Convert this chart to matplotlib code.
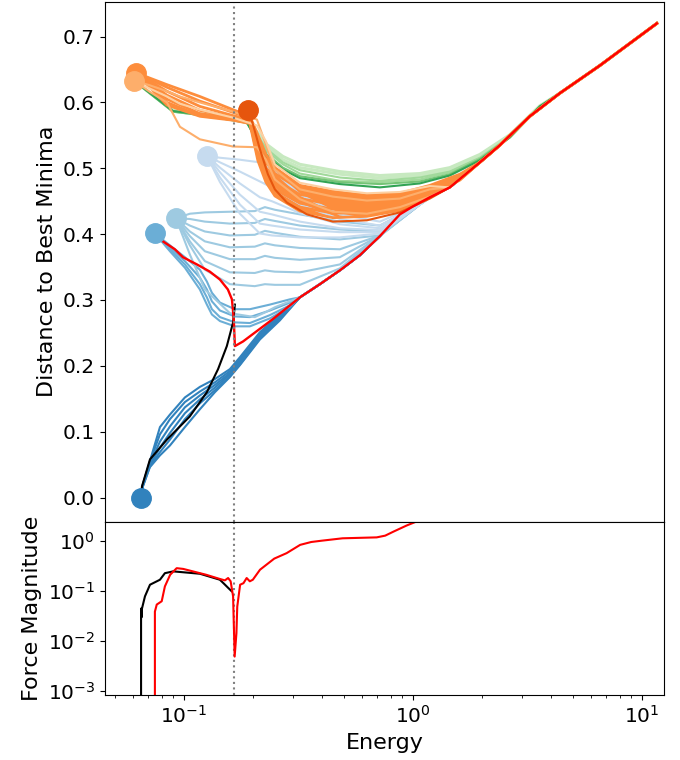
import matplotlib
matplotlib.use("Agg")
import matplotlib.pyplot as plt
from matplotlib.ticker import NullLocator

# ---------------- data ----------------
# shared high-energy trunk where all trajectories merge
trunk_E = [0.3211, 0.3925, 0.4799, 0.5868, 0.7176, 0.8773, 1.0, 1.186, 1.450, 1.961, 2.398, 3.243, 4.385, 6.555, 11.63]
trunk_D = [0.304, 0.324, 0.345, 0.368, 0.397, 0.430, 0.442, 0.456, 0.471, 0.509, 0.535, 0.579, 0.614, 0.656, 0.720]

# dark blue family (start at the best minimum)
db_E = [0.0649, 0.0662, 0.0710, 0.0786, 0.0869, 0.1010, 0.1174, 0.1366, 0.1588, 0.1756, 0.2147, 0.2625]
db_D = [
    [0.0, 0.020, 0.055, 0.107, 0.126, 0.152, 0.168, 0.180, 0.195, 0.213, 0.251, 0.278],
    [0.0, 0.020, 0.054, 0.096, 0.119, 0.145, 0.161, 0.175, 0.192, 0.210, 0.248, 0.277],
    [0.0, 0.019, 0.051, 0.085, 0.108, 0.137, 0.155, 0.171, 0.189, 0.207, 0.245, 0.274],
    [0.0, 0.019, 0.049, 0.076, 0.098, 0.128, 0.149, 0.167, 0.187, 0.204, 0.244, 0.272],
    [0.0, 0.017, 0.047, 0.069, 0.088, 0.119, 0.143, 0.163, 0.184, 0.202, 0.242, 0.271],
    [0.0, 0.017, 0.046, 0.064, 0.079, 0.107, 0.134, 0.160, 0.183, 0.201, 0.240, 0.269],
]

# medium blue family
mb_E = [0.0747, 0.0869, 0.1010, 0.1174, 0.1260, 0.1325, 0.1437, 0.1670, 0.1942, 0.2374, 0.2904]
mb_D = [
    [0.401, 0.383, 0.365, 0.346, 0.328, 0.311, 0.296, 0.286, 0.286, 0.293, 0.301],
    [0.401, 0.380, 0.359, 0.334, 0.316, 0.298, 0.284, 0.275, 0.274, 0.284, 0.296],
    [0.401, 0.377, 0.354, 0.324, 0.304, 0.286, 0.274, 0.266, 0.265, 0.277, 0.292],
    [0.401, 0.374, 0.349, 0.316, 0.293, 0.278, 0.268, 0.260, 0.260, 0.272, 0.290],
]

# light blue family
lb_E = [0.0923, 0.1062, 0.1235, 0.1588, 0.2040, 0.2258, 0.2497, 0.3211, 0.4799, 0.7176, 1.073]
lb_D = [
    [0.424, 0.431, 0.433, 0.434, 0.435, 0.441, 0.437, 0.430, 0.419, 0.413, 0.445],
    [0.424, 0.423, 0.419, 0.416, 0.417, 0.423, 0.420, 0.413, 0.407, 0.404, 0.445],
    [0.424, 0.413, 0.404, 0.398, 0.399, 0.405, 0.402, 0.396, 0.392, 0.398, 0.445],
    [0.424, 0.404, 0.389, 0.380, 0.381, 0.386, 0.383, 0.379, 0.377, 0.398, 0.445],
    [0.424, 0.397, 0.374, 0.362, 0.362, 0.367, 0.364, 0.361, 0.365, 0.398, 0.445],
    [0.424, 0.389, 0.359, 0.342, 0.341, 0.345, 0.343, 0.342, 0.354, 0.398, 0.445],
    [0.424, 0.383, 0.346, 0.324, 0.321, 0.324, 0.323, 0.323, 0.348, 0.398, 0.445],
    [0.424, 0.369, 0.316, 0.280, 0.274, 0.281, 0.289, 0.304, 0.345, 0.397, 0.445],
]

# very light blue family
vlb_E = [0.1260, 0.1437, 0.1756, 0.2147, 0.2422, 0.3211, 0.4799, 0.7176, 1.073]
vlb_D = [
    [0.519, 0.516, 0.513, 0.509, 0.498, 0.460, 0.430, 0.419, 0.445],
    [0.519, 0.509, 0.495, 0.480, 0.471, 0.445, 0.423, 0.413, 0.445],
    [0.519, 0.501, 0.477, 0.456, 0.450, 0.432, 0.415, 0.409, 0.445],
    [0.519, 0.494, 0.460, 0.434, 0.430, 0.419, 0.409, 0.406, 0.445],
    [0.519, 0.486, 0.445, 0.416, 0.413, 0.407, 0.403, 0.403, 0.445],
    [0.519, 0.479, 0.431, 0.401, 0.398, 0.395, 0.395, 0.401, 0.445],
]

# orange family
or_E = [0.0617, 0.0843, 0.1174, 0.1637, 0.1942, 0.2103, 0.2281, 0.2497, 0.3211, 0.4473, 0.6299, 0.8773, 1.186, 1.604]
or_D = [
    [0.645, 0.627, 0.609, 0.589, 0.579, 0.551, 0.521, 0.501, 0.474, 0.465, 0.459, 0.462, 0.474, 0.491],
    [0.645, 0.623, 0.602, 0.585, 0.576, 0.544, 0.510, 0.492, 0.468, 0.459, 0.453, 0.456, 0.470, 0.488],
    [0.645, 0.617, 0.594, 0.580, 0.574, 0.536, 0.501, 0.483, 0.460, 0.453, 0.447, 0.451, 0.466, 0.486],
    [0.645, 0.611, 0.588, 0.577, 0.573, 0.529, 0.494, 0.475, 0.454, 0.445, 0.442, 0.447, 0.463, 0.485],
    [0.645, 0.605, 0.583, 0.576, 0.571, 0.523, 0.488, 0.468, 0.447, 0.438, 0.436, 0.442, 0.460, 0.483],
    [0.645, 0.600, 0.580, 0.574, 0.570, 0.517, 0.483, 0.462, 0.441, 0.432, 0.432, 0.439, 0.459, 0.483],
    [0.645, 0.596, 0.579, 0.573, 0.568, 0.512, 0.479, 0.458, 0.435, 0.425, 0.427, 0.436, 0.457, 0.482],
]

# light orange / pale orange family
lo_E = [0.0606, 0.0710, 0.0843, 0.0961, 0.1174, 0.1637, 0.2084, 0.2281, 0.2497, 0.3211, 0.4473, 0.6299, 0.8773, 1.186]
lo_D = [
    [0.633, 0.616, 0.600, 0.563, 0.544, 0.533, 0.532, 0.513, 0.483, 0.453, 0.434, 0.431, 0.441, 0.457],
    [0.633, 0.626, 0.617, 0.609, 0.600, 0.586, 0.574, 0.536, 0.498, 0.468, 0.457, 0.451, 0.454, 0.468],
]
po_D = [0.633, 0.621, 0.609, 0.598, 0.589, 0.577, 0.565, 0.541, 0.506, 0.478, 0.468, 0.462, 0.464, 0.473]

# dark orange trajectory
do_E = [0.1904, 0.2001, 0.2147, 0.2327, 0.2497, 0.2817, 0.3444, 0.4473, 0.6299, 0.8773, 1.186]
do_D = [0.589, 0.567, 0.529, 0.491, 0.468, 0.448, 0.430, 0.419, 0.421, 0.433, 0.454]

# green family
gr_E = [0.0606, 0.0895, 0.1299, 0.1884, 0.2084, 0.2304, 0.2706, 0.3211, 0.4799, 0.7176, 1.073, 1.450, 1.961, 2.652, 3.586]
gr_D = [
    [0.633, 0.588, 0.581, 0.572, 0.556, 0.536, 0.518, 0.506, 0.495, 0.489, 0.492, 0.501, 0.521, 0.551, 0.595],
    [0.633, 0.587, 0.580, 0.571, 0.553, 0.532, 0.513, 0.501, 0.491, 0.485, 0.489, 0.498, 0.518, 0.548, 0.594],
    [0.633, 0.587, 0.580, 0.570, 0.550, 0.529, 0.509, 0.497, 0.486, 0.481, 0.486, 0.495, 0.516, 0.548, 0.594],
    [0.633, 0.586, 0.579, 0.569, 0.547, 0.526, 0.506, 0.492, 0.481, 0.479, 0.483, 0.494, 0.515, 0.547, 0.594],
    [0.633, 0.586, 0.579, 0.569, 0.544, 0.521, 0.501, 0.488, 0.479, 0.476, 0.480, 0.491, 0.514, 0.547, 0.594],
    [0.633, 0.587, 0.580, 0.570, 0.541, 0.518, 0.498, 0.485, 0.476, 0.471, 0.477, 0.489, 0.512, 0.547, 0.594],
]
gr_colors = ['#c7e9c0', '#c7e9c0', '#a1d99b', '#a1d99b', '#74c476', '#31a354']

# highlighted paths
red_E = [0.0747, 0.0810, 0.0913, 0.0990, 0.1140, 0.1299, 0.1437, 0.1556, 0.1621, 0.1651, 0.1670, 0.1812, 0.2446]
red_D = [0.401, 0.389, 0.377, 0.365, 0.354, 0.343, 0.331, 0.316, 0.301, 0.271, 0.230, 0.237, 0.271]
black_E = [0.0649, 0.0656, 0.0711, 0.0843, 0.106, 0.126, 0.141, 0.154, 0.164, 0.167]
black_D = [0.0, 0.017, 0.058, 0.088, 0.123, 0.160, 0.195, 0.230, 0.266, 0.293]

# starting minima (markers)
start_E = [0.0649, 0.0747, 0.0923, 0.1260, 0.0617, 0.0606, 0.1904]
start_D = [0.0, 0.401, 0.424, 0.519, 0.645, 0.633, 0.589]
start_colors = ['#3182bd', '#6baed6', '#9ecae1', '#c6dbef', '#fd8d3c', '#fdae6b', '#e6550d']

# force magnitudes
fblack_E = [0.0650, 0.0650, 0.0653, 0.0656, 0.0676, 0.0711, 0.0786, 0.0826, 0.0898, 0.1175, 0.1436, 0.150, 0.156, 0.1616]
fblack_F = [1e-4, 0.045, 0.030, 0.045, 0.079, 0.135, 0.17, 0.23, 0.25, 0.224, 0.17, 0.14, 0.117, 0.10]
fred_E = [0.0747, 0.0747, 0.0761, 0.0800, 0.0826, 0.0871, 0.0930, 0.0993, 0.125, 0.1436, 0.151, 0.156,
          0.160, 0.164, 0.1666, 0.1696, 0.171, 0.176, 0.182, 0.188, 0.194, 0.200, 0.215, 0.248, 0.281,
          0.322, 0.36, 0.40, 0.493, 0.695, 0.757, 0.824, 0.938, 1.045, 1.2]
fred_F = [1e-4, 0.039, 0.054, 0.063, 0.125, 0.214, 0.29, 0.28, 0.214, 0.176, 0.165, 0.184,
          0.158, 0.079, 0.0049, 0.0145, 0.049, 0.135, 0.145, 0.184, 0.158, 0.17, 0.27, 0.45, 0.58,
          0.85, 0.97, 1.03, 1.15, 1.2, 1.3, 1.57, 2.07, 2.53, 3.5]

saddle_E = 0.165

# ---------------- plotting ----------------
def ext(E, D):
    E = list(E)
    D = list(D)
    for e, d in zip(trunk_E, trunk_D):
        if e > E[-1] * 1.01:
            E.append(e)
            D.append(d)
    return E, D

fig = plt.figure(figsize=(6.8, 7.6), dpi=100)
gs = fig.add_gridspec(2, 1, height_ratios=[3, 1], hspace=0,
                      left=0.154, right=0.9765, top=0.9978, bottom=0.0851)
ax1 = fig.add_subplot(gs[0])
ax2 = fig.add_subplot(gs[1], sharex=ax1)

lw = 1.5
for D in db_D:
    ax1.plot(*ext(db_E, D), color='#3182bd', lw=lw)
for D in mb_D:
    ax1.plot(*ext(mb_E, D), color='#6baed6', lw=lw)
for D in lb_D:
    ax1.plot(*ext(lb_E, D), color='#9ecae1', lw=lw)
for D in vlb_D:
    ax1.plot(*ext(vlb_E, D), color='#c6dbef', lw=lw)

# greens first so that orange trajectories cover their common start
for D, c in zip(gr_D, gr_colors):
    ax1.plot(*ext(gr_E, D), color=c, lw=2.2 if c == '#c7e9c0' else lw)

ax1.fill_between(or_E[4:], or_D[-1][4:], or_D[0][4:], color='#fd8d3c', lw=0)
for D in or_D:
    ax1.plot(*ext(or_E, D), color='#fd8d3c', lw=2.0)
for D in lo_D:
    ax1.plot(*ext(lo_E, D), color='#fdae6b', lw=lw)
ax1.plot(*ext(lo_E, po_D), color='#fdd0a2', lw=lw)
ax1.plot(*ext(do_E, do_D), color='#e6550d', lw=lw)

ax1.plot(black_E, black_D, color='black', lw=lw)
ax1.plot(*ext(red_E, red_D), color='red', lw=1.7)

for e, d, c in zip(start_E, start_D, start_colors):
    ax1.plot([e], [d], 'o', color=c, ms=14, zorder=5)

ax1.axvline(saddle_E, color='gray', ls=':', lw=1.5)
ax2.axvline(saddle_E, color='gray', ls=':', lw=1.5)

ax2.plot(fblack_E, fblack_F, color='black', lw=lw)
ax2.plot(fred_E, fred_F, color='red', lw=lw)

ax1.set_xscale('log')
ax2.set_yscale('log')
ax1.set_xlim(0.0451, 12.5)
ax1.set_ylim(-0.037, 0.753)
ax2.set_ylim(8.2e-4, 2.45)
ax2.yaxis.set_minor_locator(NullLocator())
ax2.set_yticks([1e-3, 1e-2, 1e-1, 1e0])

ax1.tick_params(axis='x', which='both', bottom=False, labelbottom=False)
ax1.tick_params(axis='y', labelsize=14.5)
ax2.tick_params(axis='both', labelsize=14.5)
ax1.set_ylabel('Distance to Best Minima', fontsize=16)
ax2.set_ylabel('Force Magnitude', fontsize=16)
ax2.set_xlabel('Energy', fontsize=16)

fig.savefig('out.png', dpi=100)
